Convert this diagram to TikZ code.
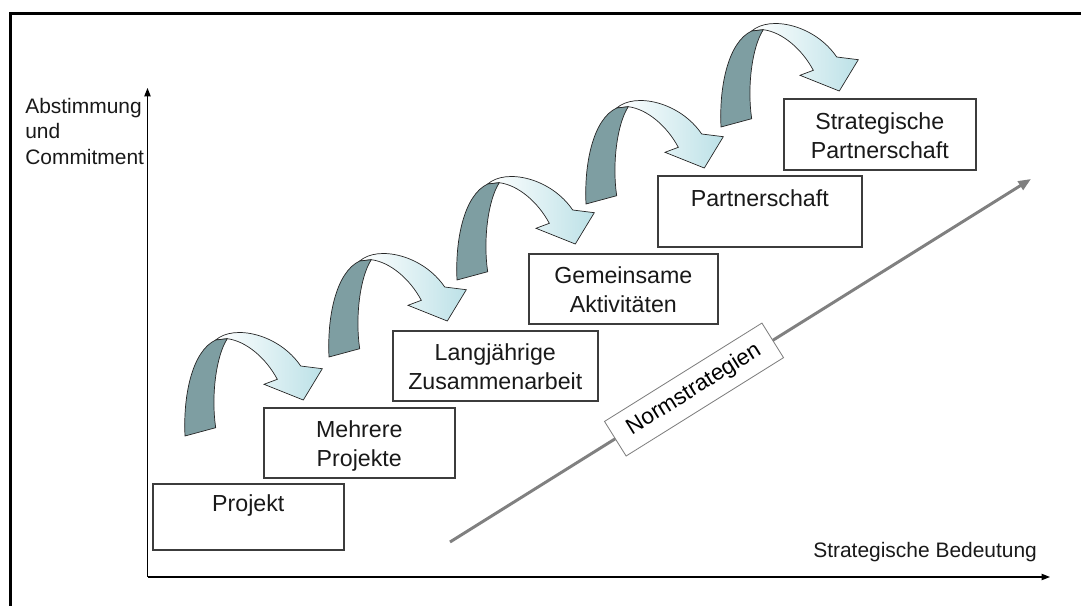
\documentclass[tikz,border=0pt]{standalone}
\usepackage{fontspec}
\setmainfont{Liberation Sans}
\usetikzlibrary{arrows.meta,positioning,calc}

\definecolor{ribbondark}{RGB}{126,158,162}
\definecolor{ribbonlight}{RGB}{188,225,231}
\definecolor{boxline}{RGB}{60,60,60}
\definecolor{normgray}{RGB}{128,128,128}
\definecolor{textgray}{RGB}{25,25,25}

\newcommand{\topstrut}{\rule{0pt}{19.5pt}}

\tikzset{
  stage/.style={draw=boxline, line width=1.1pt, fill=white, align=center, text=textgray,
    font=\fontsize{16.5}{20.5}\selectfont, inner sep=0pt, anchor=north west},
  axis/.style={line width=0.9pt, -{Triangle[length=6pt,width=4.5pt]}},
  axislabel/.style={font=\fontsize{14.9}{18}\selectfont, text=textgray, inner sep=0pt},
  ribbonback/.style={fill=ribbondark, draw=black!85, line width=0.5pt},
  ribbonfront/.style={left color=white, right color=ribbonlight, draw=black!85, line width=0.5pt},
}

\begin{document}
\begin{tikzpicture}[x=0.025cm, y=-0.025cm]
  \useasboundingbox (0,0) rectangle (1081,606);

  % frame
  \draw[line width=1.8pt] (10.3,606) -- (10.3,13.7) -- (1081,13.7);

  % axes
  \coordinate (origin) at (147.5,577);
  \coordinate (ytip) at (147.5,88);
  \coordinate (xtip) at (1050,577);
  \draw[axis] (origin) -- (ytip);
  \draw[axis] (origin) -- (xtip);
  \node[axislabel, align=left, anchor=north west] (ylab) at (25,98) {Abstimmung\\und\\Commitment};
  \node[axislabel, anchor=base west] (xlab) at (813,557) {Strategische Bedeutung};

  % norm strategies
  \coordinate (nsstart) at (450,542);
  \coordinate (nsend) at (1031,179);
  \draw[line width=2.1pt, normgray, -{Triangle[length=9pt,width=7pt]}] (nsstart) -- (nsend)
    node[pos=0.42, sloped, draw=normgray, line width=0.6pt, fill=white, text=black,
      minimum width=132pt, minimum height=29pt, font=\fontsize{16}{19}\selectfont] (norm) {Normstrategien};

  % curved step arrows
  \foreach \ox/\oy in {184/436, 328/357, 456/280, 585/204, 720/127} {
    \begin{scope}[shift={(\ox,\oy)}]
      \draw[ribbonfront] (31.7,-96) .. controls (50,-112) and (95,-102) .. (116.7,-70)
        -- (138.3,-67.3) -- (119.3,-36) -- (80,-51.7) -- (93.3,-56.7)
        .. controls (82,-78) and (62,-95) .. (43.3,-97.3) -- cycle;
      \draw[ribbonback] (1,0) .. controls (-1,-40) and (8,-85) .. (31.7,-96)
        -- (43.3,-97.3) .. controls (32,-80) and (27,-40) .. (31.7,-8.3) -- cycle;
    \end{scope}
  }

  % stages
  \node[stage, minimum width=4.775cm, minimum height=1.65cm] (projekt) at (152,483) {\topstrut Projekt\\\strut};
  \node[stage, minimum width=4.775cm, minimum height=1.75cm] (mehrere) at (263,407) {\topstrut Mehrere\\Projekte\strut};
  \node[stage, minimum width=5.125cm, minimum height=1.75cm] (langj) at (392,330) {\topstrut Langjährige\\Zusammenarbeit\strut};
  \node[stage, minimum width=4.725cm, minimum height=1.75cm] (gemeinsam) at (528,253) {\topstrut Gemeinsame\\Aktivitäten\strut};
  \node[stage, minimum width=5.1cm, minimum height=1.775cm] (partner) at (657,175) {\topstrut Partnerschaft\\\strut};
  \node[stage, minimum width=4.8cm, minimum height=1.775cm] (strategisch) at (783,98) {\topstrut Strategische\\Partnerschaft\strut};

\end{tikzpicture}
\end{document}
